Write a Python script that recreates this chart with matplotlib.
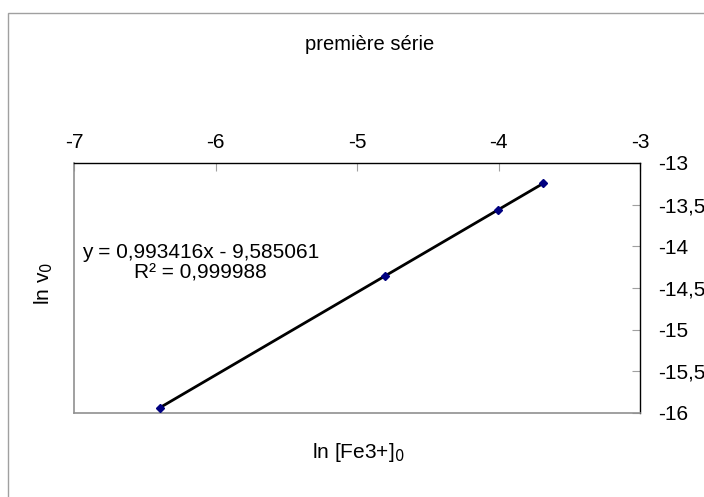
import matplotlib
matplotlib.use("Agg")
import matplotlib.pyplot as plt
import numpy as np
from matplotlib.patches import Rectangle
from matplotlib.ticker import FuncFormatter

plt.rcParams['font.family'] = ['Liberation Sans', 'DejaVu Sans']

# data
ln_fe = [-6.392, -4.802, -4.006, -3.683]
ln_v0 = [-15.935, -14.355, -13.565, -13.244]
slope = 0.993416
intercept = -9.585061
r2 = 0.999988
x_ticks = [-7, -6, -5, -4, -3]
y_ticks = [-13, -13.5, -14, -14.5, -15, -15.5, -16]

fig = plt.figure(figsize=(7.04, 4.97), dpi=100)
fig.patch.set_facecolor('white')
# chart border
fig.add_artist(Rectangle((8/704, -0.1), 1.2, 1 - 13/497 + 0.1, transform=fig.transFigure,
                         fill=False, edgecolor='#a0a0a0', linewidth=1.0))

ax = fig.add_axes([74/704, 1 - 413/497, (640 - 74)/704, (413 - 163)/497])
ax.set_xlim(-7, -3)
ax.set_ylim(-16, -13)

# trendline
xs = np.array([min(ln_fe), max(ln_fe)])
ax.plot(xs, slope * xs + intercept, color='black', linewidth=2.0, zorder=2)
ax.plot(ln_fe, ln_v0, linestyle='none', marker='D', markersize=4.5,
        color='#000080', zorder=3)

ax.xaxis.tick_top()
ax.yaxis.tick_right()
ax.set_xticks(x_ticks)
ax.set_yticks(y_ticks)
fmt = FuncFormatter(lambda v, p: ('%g' % v).replace('.', ','))
ax.xaxis.set_major_formatter(fmt)
ax.yaxis.set_major_formatter(fmt)
ax.tick_params(axis='x', direction='in', length=6, color='#a0a0a0', labelsize=15, pad=8)
ax.tick_params(axis='y', direction='in', length=6, color='#a0a0a0', labelsize=15, pad=13)

for s in ['top', 'right']:
    ax.spines[s].set_color('black')
    ax.spines[s].set_linewidth(1.0)
for s in ['left', 'bottom']:
    ax.spines[s].set_color('#909090')
    ax.spines[s].set_linewidth(1.2)

fig.text(370/704, 1 - 45/497, 'première série', ha='center', va='center', fontsize=14.5)
fig.text(358/704, 1 - 453/497, r'ln [Fe3+]$_0$', ha='center', va='center', fontsize=15)
fig.text(44/704, 1 - 283/497, r'ln v$_0$', ha='center', va='center', fontsize=15, rotation=90)

eq = 'y = %sx - %s' % (('%.6f' % slope).replace('.', ','), ('%.6f' % -intercept).replace('.', ','))
ax.text(200.5/704, 1 - 252/497, eq, transform=fig.transFigure, ha='center', va='center', fontsize=15)
ax.text(200.5/704, 1 - 273/497, 'R² = %s' % ('%.6f' % r2).replace('.', ','),
        transform=fig.transFigure, ha='center', va='center', fontsize=15)

fig.savefig('out.png', dpi=100)
